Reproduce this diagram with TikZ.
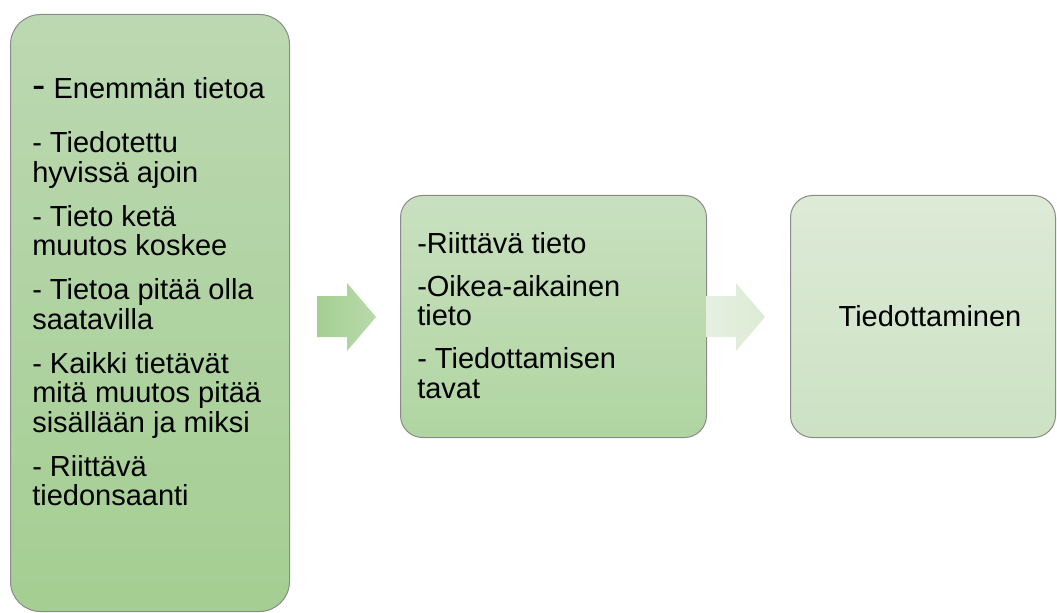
\documentclass[tikz,border=0pt]{standalone}
\usepackage{fontspec}
\setmainfont{Liberation Sans}
\newlength\px
\setlength\px{0.75pt}
\definecolor{boxline}{HTML}{8A8A8A}
\definecolor{aTop}{HTML}{BCD8B2}
\definecolor{aBot}{HTML}{A4CE92}
\definecolor{bTop}{HTML}{C9E0C0}
\definecolor{bBot}{HTML}{B0D5A1}
\definecolor{cTop}{HTML}{DDEAD7}
\definecolor{cBot}{HTML}{CCE2C3}
\definecolor{arA1}{HTML}{A5CF92}
\definecolor{arA2}{HTML}{B9D9AC}
\definecolor{arB1}{HTML}{E6F0E1}
\definecolor{arB2}{HTML}{DCEBD5}
\tikzset{
  box/.style={draw=boxline, line width=1\px, anchor=north west, inner sep=0pt},
  txt/.style={inner sep=0pt, anchor=base west, text=black},
}
\newcommand{\bodyfont}{\fontsize{29\px}{29.5\px}\selectfont}
\begin{document}
\begin{tikzpicture}[x=0.75pt,y=-0.75pt]
\useasboundingbox (0,0) rectangle (1057,613);
% boxes
\node (b1) [box, rounded corners=30\px, top color=aTop, bottom color=aBot,
  minimum width=279\px, minimum height=597\px] at (10,14) {};
\node (b2) [box, rounded corners=22\px, top color=bTop, bottom color=bBot,
  minimum width=306\px, minimum height=242\px] at (400,195) {};
\node (b3) [box, rounded corners=22\px, top color=cTop, bottom color=cBot,
  minimum width=265\px, minimum height=242\px] at (790,195) {};
% arrows
\path[left color=arA1, right color=arA2]
  (317,296) -- (347,296) -- (347,283) -- (376,317) -- (347,351) -- (347,337) -- (317,337) -- cycle;
\path[left color=arB1, right color=arB2]
  (706,296) -- (736,296) -- (736,283) -- (765,317) -- (736,351) -- (736,337) -- (706,337) -- cycle;
% texts
\node (t1) [txt] at (32,99) {\parbox[t]{255\px}{\bodyfont\raggedright\parindent=0pt\parskip=14.5\px
{\fontsize{40\px}{29.5\px}\selectfont -} Enemmän tietoa\par\vspace{10\px}
- Tiedotettu\\hyvissä ajoin\par
- Tieto ketä\\muutos koskee\par
- Tietoa pitää olla\\saatavilla\par
- Kaikki tietävät\\mitä muutos pitää\\sisällään ja miksi\par
- Riittävä\\tiedonsaanti\par}};
\node (t2) [txt] at (417,253) {\parbox[t]{280\px}{\bodyfont\raggedright\parindent=0pt\parskip=13.5\px
-Riittävä tieto\par
-Oikea-aikainen\\tieto\par
- Tiedottamisen\\tavat\par}};
\node (t3) [inner sep=0pt, anchor=base] at (930,326) {\bodyfont Tiedottaminen};
\end{tikzpicture}
\end{document}
